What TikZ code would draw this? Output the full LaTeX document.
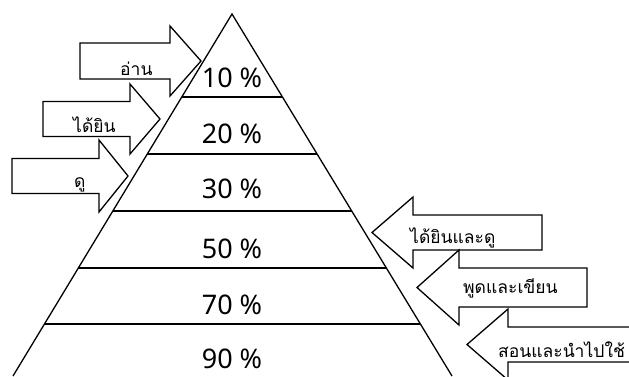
\documentclass[tikz,border=0pt]{standalone}
\usepackage{fontspec}
\setmainfont{Noto Sans}
\newfontfamily\thaifont[Script=Thai]{Loma}
\usetikzlibrary{calc}
\tikzset{
    sense/.style={draw,line width=1.3pt,fill=white,line join=miter},
    level/.style={line width=1.3pt},
    pct/.style={font=\fontsize{27}{30}\selectfont,inner sep=0pt},
    say/.style={font=\thaifont\fontsize{17.5}{20}\selectfont,inner sep=0pt,anchor=base west}
}
\begin{document}
\begin{tikzpicture}[x=1pt,y=-1pt]
\clip (0,0) rectangle (629,376);
% pyramid
\coordinate (apex) at (232,14);
\coordinate (bl) at (13,376);
\coordinate (br) at (452,376);
\draw[level] (bl) -- (apex) -- (br);
\foreach \y in {97,154,211,268,324} {
    \pgfmathsetmacro\t{(\y-14)/362}
    \draw[level] ($(apex)!\t!(bl)$) -- ($(apex)!\t!(br)$);
}
\foreach \p/\y in {10/78,20/134,30/189,50/249,70/305,90/359}
    \node[pct] (p\p) at (232,\y) {\p{} \%};
% arrows pointing right
\foreach \xl/\xh/\xt/\yc/\bh/\hh in {80/170/201/61/18/35,43/130/160/119/17.5/35,12/99/128/176/17.5/36}
    \draw[sense] (\xl,{\yc-\bh}) -- (\xh,{\yc-\bh}) -- (\xh,{\yc-\hh}) -- (\xt,\yc)
        -- (\xh,{\yc+\hh}) -- (\xh,{\yc+\bh}) -- (\xl,{\yc+\bh}) -- cycle;
% arrows pointing left
\foreach \xr/\xh/\xt/\yc/\bh/\hh in {542/413/372/232.5/17.5/35.5,587/459/417/287.5/19.5/37.5,640/508/467/344.5/17.5/35.5}
    \draw[sense] (\xr,{\yc-\bh}) -- (\xh,{\yc-\bh}) -- (\xh,{\yc-\hh}) -- (\xt,\yc)
        -- (\xh,{\yc+\hh}) -- (\xh,{\yc+\bh}) -- (\xr,{\yc+\bh}) -- cycle;
\node[say] (read) at (120,75) {อ่าน};
\node[say] (hear) at (73,132) {ได้ยิน};
\node[say] (see) at (74,187) {ดู};
\node[say] (hearsee) at (410,243) {ได้ยินและดู};
\node[say] (speak) at (463,293) {พูดและเขียน};
\node[say] (teach) at (498,357) {สอนและนำไปใช้};
\end{tikzpicture}
\end{document}
